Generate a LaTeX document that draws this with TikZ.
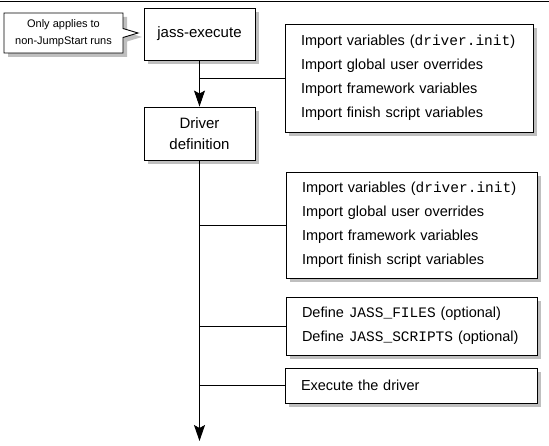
\documentclass[tikz,border=0pt]{standalone}
\usepackage{fontspec}
\setmainfont{Liberation Sans}
\setmonofont{Liberation Mono}
\usetikzlibrary{arrows.meta,shapes.callouts,backgrounds}

\begin{document}
\begin{tikzpicture}[x=1pt,y=-1pt,
  notebox/.style={rectangle callout,minimum width=119pt,minimum height=40pt,inner sep=0pt,
    align=center,font=\fontsize{11}{17}\selectfont,callout pointer width=9pt},
  stepbox/.style={draw,fill=white,line width=0.9pt,inner sep=0pt,align=center,
    minimum width=111pt,font=\fontsize{15}{21}\selectfont},
  listbox/.style={draw,fill=white,line width=0.9pt,inner xsep=16pt,inner ysep=0pt,
    align=left,text width=#1,font=\fontsize{14.5}{24}\selectfont},
  shadowfill/.style={fill=black,fill opacity=0.25},
  flow/.style={line width=0.9pt,-{Stealth[length=16pt,width=11pt,inset=3pt]}},
  branch/.style={line width=0.9pt}]
\useasboundingbox (0,0) rectangle (549,446);
\draw[line width=0.9pt] (0,1.5) -- (549,1.5);

\begin{scope}[on background layer]
  \node[notebox,shadowfill,callout absolute pointer={(142,37)}] (noteshadow) at (67.5,37) {};
\end{scope}
\node[notebox,draw,fill=white,line width=0.9pt,callout absolute pointer={(138,33)}]
  (note) at (63.5,33) {Only applies to\\non-JumpStart runs};

\node[stepbox,minimum height=52pt] (exec) at (199.5,34) {jass-execute};
\node[stepbox,minimum height=53pt] (drvdef) at (199.5,133.5) {Driver\\definition};

\node[listbox=216pt,minimum height=108pt] (imp1) at (409,78)
  {Import variables (\texttt{driver.init})\\Import global user overrides\\
   Import framework variables\\Import finish script variables};
\node[listbox=219pt,minimum height=106pt] (imp2) at (411.5,225)
  {Import variables (\texttt{driver.init})\\Import global user overrides\\
   Import framework variables\\Import finish script variables};
\node[listbox=219pt,minimum height=58pt] (defs) at (411.5,326)
  {Define \texttt{JASS\_FILES} (optional)\\Define \texttt{JASS\_SCRIPTS} (optional)};
\node[listbox=220pt,minimum height=35pt] (run) at (411,385.5) {Execute the driver};

\begin{scope}[on background layer]
  \foreach \n in {exec,drvdef,imp1,imp2,defs,run}
    \fill[shadowfill] ([xshift=4pt,yshift=-4pt]\n.north west) rectangle ([xshift=4pt,yshift=-4pt]\n.south east);
\end{scope}

\coordinate (end) at (199.5,441);
\draw[flow] (exec) -- (drvdef);
\draw[flow] (drvdef) -- (end);
\draw[branch] (exec.south |- imp1.west) -- (imp1.west);
\draw[branch] (drvdef.south |- imp2.west) -- (imp2.west);
\draw[branch] (drvdef.south |- defs.west) -- (defs.west);
\draw[branch] (drvdef.south |- run.west) -- (run.west);
\end{tikzpicture}
\end{document}
